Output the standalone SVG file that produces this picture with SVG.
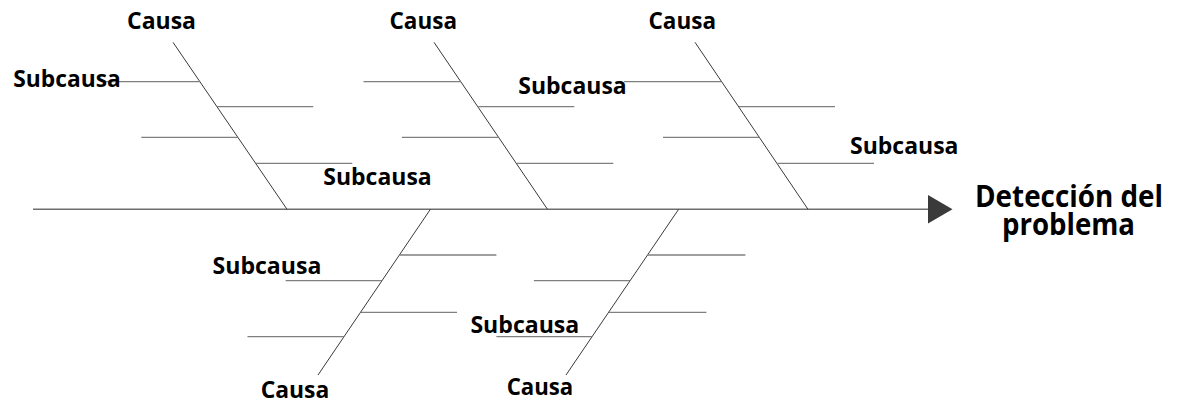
<svg xmlns="http://www.w3.org/2000/svg" width="1178" height="404" viewBox="0 0 1178 404">
<style>
.bone{stroke:#3a3a3a;stroke-width:1;fill:none}
.sub{stroke:#7f7f7f;stroke-width:1.3;fill:none}
.spine{stroke:#6f6f6f;stroke-width:1.6;fill:none}
.lbl{font-family:"Open Sans","Liberation Sans",sans-serif;font-weight:bold;font-size:24px;fill:#000}
.head{font-family:"Open Sans","Liberation Sans",sans-serif;font-weight:bold;font-size:30px;fill:#000}
</style>
<rect width="1178" height="404" fill="#fff"/>
<g id="connectors">
<line class="spine" x1="33" y1="209.3" x2="929" y2="209.3"/>
<polygon points="928,195 952.5,209.3 928,223.5" fill="#3a3a3a"/>
<line class="bone" x1="173" y1="42.3" x2="287" y2="209.3"/>
<line class="bone" x1="434" y1="42.3" x2="547.5" y2="209.3"/>
<line class="bone" x1="695" y1="42.3" x2="808" y2="209.3"/>
<line class="bone" x1="430.4" y1="209.3" x2="318" y2="375"/>
<line class="bone" x1="678.6" y1="209.3" x2="566" y2="375"/>
<line class="sub" x1="103" y1="81.7" x2="200" y2="81.7"/>
<line class="sub" x1="217" y1="106.7" x2="313.3" y2="106.7"/>
<line class="sub" x1="141.3" y1="137.3" x2="237.8" y2="137.3"/>
<line class="sub" x1="256" y1="163.3" x2="352.3" y2="163.3"/>
<line class="sub" x1="363.5" y1="81.7" x2="461" y2="81.7"/>
<line class="sub" x1="478.3" y1="106.7" x2="574.3" y2="106.7"/>
<line class="sub" x1="401.9" y1="137.3" x2="498.6" y2="137.3"/>
<line class="sub" x1="516.9" y1="163.3" x2="613.3" y2="163.3"/>
<line class="sub" x1="624" y1="81.7" x2="721.5" y2="81.7"/>
<line class="sub" x1="739" y1="106.7" x2="835" y2="106.7"/>
<line class="sub" x1="663" y1="137.3" x2="759.5" y2="137.3"/>
<line class="sub" x1="777.5" y1="163.3" x2="874" y2="163.3"/>
<line class="sub" x1="399.6" y1="255" x2="496.4" y2="255"/>
<line class="sub" x1="285.7" y1="280.7" x2="382" y2="280.7"/>
<line class="sub" x1="360.5" y1="312.3" x2="457" y2="312.3"/>
<line class="sub" x1="247.5" y1="336.7" x2="344" y2="336.7"/>
<line class="sub" x1="647.8" y1="255" x2="745.4" y2="255"/>
<line class="sub" x1="533.9" y1="280.7" x2="630.2" y2="280.7"/>
<line class="sub" x1="608.7" y1="312.3" x2="706.4" y2="312.3"/>
<line class="sub" x1="496.4" y1="336.7" x2="592.2" y2="336.7"/>
</g>
<g id="cause1"><text class="lbl" x="127" y="28.5" textLength="69" lengthAdjust="spacingAndGlyphs">Causa</text></g>
<g id="cause2"><text class="lbl" x="389.5" y="28.5" textLength="67.5" lengthAdjust="spacingAndGlyphs">Causa</text></g>
<g id="cause3"><text class="lbl" x="648.5" y="28.5" textLength="67.5" lengthAdjust="spacingAndGlyphs">Causa</text></g>
<g id="cause4"><text class="lbl" x="260.7" y="397.5" textLength="68.6" lengthAdjust="spacingAndGlyphs">Causa</text></g>
<g id="cause5"><text class="lbl" x="506.7" y="395" textLength="66.6" lengthAdjust="spacingAndGlyphs">Causa</text></g>
<g id="sub1"><text class="lbl" x="13.3" y="87.3" textLength="107.5" lengthAdjust="spacingAndGlyphs">Subcausa</text></g>
<g id="sub2"><text class="lbl" x="323.3" y="185" textLength="108.4" lengthAdjust="spacingAndGlyphs">Subcausa</text></g>
<g id="sub3"><text class="lbl" x="518.3" y="94" textLength="108.4" lengthAdjust="spacingAndGlyphs">Subcausa</text></g>
<g id="sub4"><text class="lbl" x="850" y="154" textLength="108.5" lengthAdjust="spacingAndGlyphs">Subcausa</text></g>
<g id="sub5"><text class="lbl" x="212.5" y="274" textLength="108.9" lengthAdjust="spacingAndGlyphs">Subcausa</text></g>
<g id="sub6"><text class="lbl" x="470.4" y="332.7" textLength="108.9" lengthAdjust="spacingAndGlyphs">Subcausa</text></g>
<g id="effect">
<text class="head" x="975" y="207" textLength="188" lengthAdjust="spacingAndGlyphs">Detección del</text>
<text class="head" x="1002" y="234.5" textLength="133" lengthAdjust="spacingAndGlyphs">problema</text>
</g>
</svg>
